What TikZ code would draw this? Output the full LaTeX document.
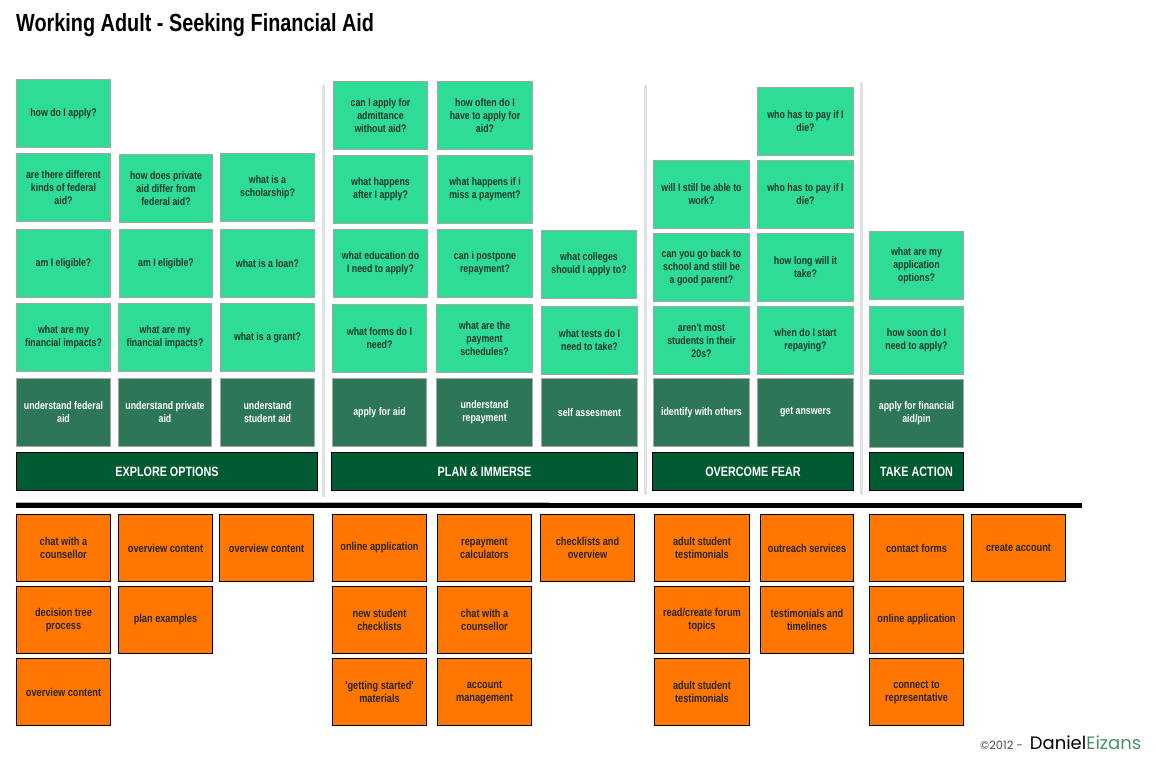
\documentclass[tikz,border=0pt]{standalone}
\usepackage{fontspec}
\newfontfamily\cond[FakeStretch=0.8]{Liberation Sans}
\newfontfamily\foot{Poppins}
\definecolor{qgreen}{RGB}{46,220,150}
\definecolor{agreen}{RGB}{45,118,87}
\definecolor{hgreen}{RGB}{0,90,50}
\definecolor{ored}{RGB}{255,119,0}
\definecolor{qtext}{RGB}{25,55,45}
\definecolor{sepgray}{RGB}{225,225,225}
\definecolor{footgreen}{RGB}{70,150,100}
\tikzset{
  x=1pt, y=-1pt,
  boxbase/.style={anchor=north west, minimum width=94pt, minimum height=68pt, inner sep=0pt,
    align=center, font=\cond\bfseries\fontsize{11}{13}\selectfont, line width=1pt},
  qbox/.style={boxbase, fill=qgreen, draw=black!35, text=qtext},
  abox/.style={boxbase, fill=agreen, draw=black!35, text=white},
  obox/.style={boxbase, fill=ored, draw=black, text=black!85, minimum height=67pt,
    font=\cond\bfseries\fontsize{11.5}{13}\selectfont},
  hbox/.style={anchor=north west, minimum height=38pt, inner sep=0pt, fill=hgreen, draw=black,
    line width=1pt, text=white, font=\cond\bfseries\fontsize{13.5}{15}\selectfont},
  sep/.style={draw=sepgray, line width=3pt},
}
\begin{document}
\begin{tikzpicture}
\useasboundingbox (0,0) rectangle (1156,764);
\fill[white] (0,0) rectangle (1156,764);
% title
\node[anchor=west, inner sep=0pt, font=\cond\bfseries\fontsize{24.8}{28}\selectfont] (title) at (16,25) {Working Adult - Seeking Financial Aid};
% separators
\coordinate (s1a) at (323,85); \coordinate (s1b) at (323,497);
\coordinate (s2a) at (645,85); \coordinate (s2b) at (645,495);
\coordinate (s3a) at (861,82); \coordinate (s3b) at (861,495);
\draw[sep] (s1a) -- (s1b);
\draw[sep] (s2a) -- (s2b);
\draw[sep] (s3a) -- (s3b);
% EXPLORE OPTIONS
\node[qbox] (e1a) at (16,79) {how do I apply?};
\node[qbox] (e1b) at (16,153) {are there different\\kinds of federal\\aid?};
\node[qbox] (e1c) at (16,229) {am I eligible?};
\node[qbox] (e1d) at (16,303) {what are my\\financial impacts?};
\node[abox] (e1e) at (16,378) {understand federal\\aid};
\node[qbox, minimum width=93pt] (e2b) at (119,154) {how does private\\aid differ from\\federal aid?};
\node[qbox, minimum width=93pt] (e2c) at (119,229) {am I eligible?};
\node[qbox, minimum width=93pt] (e2d) at (118,303) {what are my\\financial impacts?};
\node[abox, minimum width=93pt] (e2e) at (118,378) {understand private\\aid};
\node[qbox] (e3b) at (220,153) {what is a\\scholarship?};
\node[qbox] (e3c) at (220,229) {what is a loan?};
\node[qbox] (e3d) at (220,303) {what is a grant?};
\node[abox] (e3e) at (220,378) {understand\\student aid};
\node[hbox, minimum width=301pt] (h1) at (16,452) {EXPLORE OPTIONS};
% PLAN & IMMERSE
\node[qbox] (p1a) at (333,81) {can I apply for\\admittance\\without aid?};
\node[qbox] (p1b) at (333,155) {what happens\\after I apply?};
\node[qbox] (p1c) at (333,229) {what education do\\I need to apply?};
\node[qbox] (p1d) at (332,304) {what forms do I\\need?};
\node[abox] (p1e) at (332,378) {apply for aid};
\node[qbox, minimum width=95pt] (p2a) at (437,81) {how often do I\\have to apply for\\aid?};
\node[qbox, minimum width=95pt] (p2b) at (437,155) {what happens if i\\miss a payment?};
\node[qbox, minimum width=95pt] (p2c) at (437,229) {can i postpone\\repayment?};
\node[qbox, minimum width=96pt] (p2d) at (436,304) {what are the\\payment\\schedules?};
\node[abox, minimum width=96pt] (p2e) at (436,378) {understand\\repayment};
\node[qbox, minimum width=95pt] (p3c) at (541,230) {what colleges\\should I apply to?};
\node[qbox, minimum width=96pt] (p3d) at (541,306) {what tests do I\\need to take?};
\node[abox, minimum width=96pt] (p3e) at (541,378) {self assesment};
\node[hbox, minimum width=306pt] (h2) at (331,452) {PLAN \& IMMERSE};
% OVERCOME FEAR
\node[qbox, minimum width=96pt] (o2a) at (757,87) {who has to pay if I\\die?};
\node[qbox, minimum width=96pt] (o1b) at (653,160) {will I still be able to\\work?};
\node[qbox, minimum width=96pt] (o2b) at (757,160) {who has to pay if I\\die?};
\node[qbox, minimum width=96pt] (o1c) at (653,233) {can you go back to\\school and still be\\a good parent?};
\node[qbox, minimum width=96pt] (o2c) at (757,233) {how long will it\\take?};
\node[qbox, minimum width=96pt] (o1d) at (653,306) {aren't most\\students in their\\20s?};
\node[qbox, minimum width=96pt] (o2d) at (757,306) {when do I start\\repaying?};
\node[abox, minimum width=96pt] (o1e) at (653,378) {identify with others};
\node[abox, minimum width=96pt] (o2e) at (757,378) {get answers};
\node[hbox, minimum width=201pt] (h3) at (652,452) {OVERCOME FEAR};
% TAKE ACTION
\node[qbox] (t1c) at (869,231) {what are my\\application\\options?};
\node[qbox] (t1d) at (869,306) {how soon do I\\need to apply?};
\node[abox] (t1e) at (869,379) {apply for financial\\aid/pin};
\node[hbox, minimum width=94pt] (h4) at (869,452) {TAKE ACTION};
% divider
\coordinate (la) at (16,502); \coordinate (lb) at (549,502);
\coordinate (lc) at (16,505.5); \coordinate (ld) at (1082,505.5);
\draw[black!30, line width=1pt] (la) -- (lb);
\draw[black, line width=5pt] (lc) -- (ld);
% orange content boxes
\node[obox] (c11) at (16,514) {chat with a\\counsellor};
\node[obox] (c12) at (16,586) {decision tree\\process};
\node[obox] (c13) at (16,658) {overview content};
\node[obox] (c21) at (118,514) {overview content};
\node[obox] (c22) at (118,586) {plan examples};
\node[obox] (c31) at (219,514) {overview content};
\node[obox] (c41) at (332,514) {online application};
\node[obox] (c42) at (332,586) {new student\\checklists};
\node[obox] (c43) at (332,658) {'getting started'\\materials};
\node[obox] (c51) at (437,514) {repayment\\calculators};
\node[obox] (c52) at (437,586) {chat with a\\counsellor};
\node[obox] (c53) at (437,658) {account\\management};
\node[obox] (c61) at (540,514) {checklists and\\overview};
\node[obox, minimum width=95pt] (c71) at (654,514) {adult student\\testimonials};
\node[obox, minimum width=95pt] (c72) at (654,586) {read/create forum\\topics};
\node[obox, minimum width=95pt] (c73) at (654,658) {adult student\\testimonials};
\node[obox, minimum width=93pt] (c81) at (760,514) {outreach services};
\node[obox, minimum width=93pt] (c82) at (760,586) {testimonials and\\timelines};
\node[obox] (c91) at (869,514) {contact forms};
\node[obox] (c92) at (869,586) {online application};
\node[obox] (c93) at (869,658) {connect to\\representative};
\node[obox] (c101) at (971,514) {create account};
% footer
\node[anchor=base west, inner sep=0pt] (foot) at (980,749) {{\foot\fontsize{11.5}{12}\selectfont\color{black!70}\textcopyright2012 -}\hspace{7pt}{\foot\fontsize{18}{19}\selectfont Daniel\textcolor{footgreen}{Eizans}}};
\end{tikzpicture}
\end{document}
